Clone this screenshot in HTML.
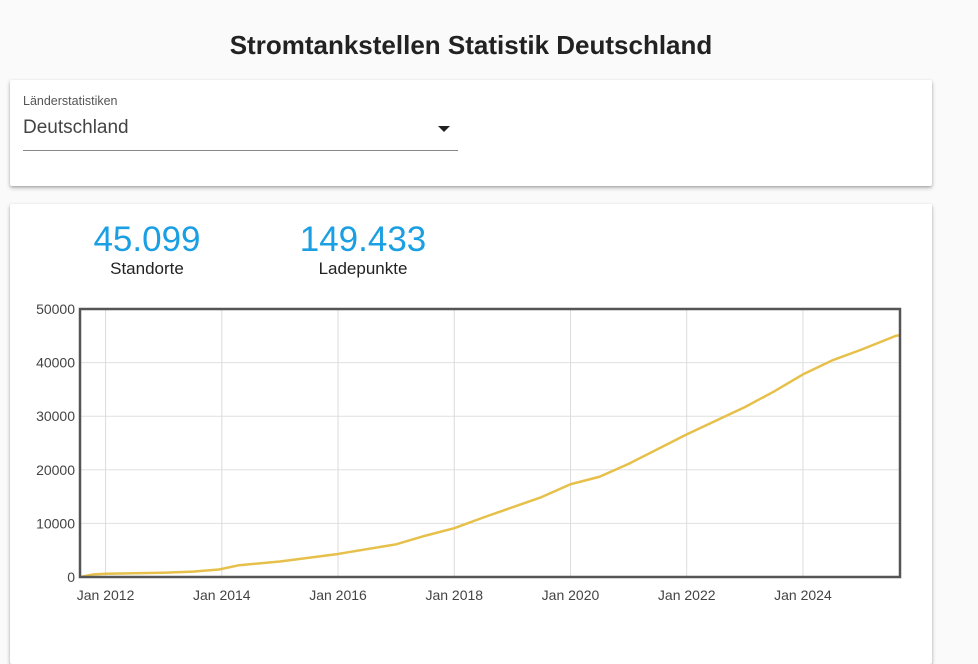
<!DOCTYPE html>
<html><head><meta charset="utf-8"><style>
body{margin:0;width:978px;height:653px;overflow:hidden;background:#fafafa;font-family:"Liberation Sans",Arial,sans-serif;position:relative}
.card{position:absolute;left:10px;width:922px;background:#fff;box-shadow:0 2px 4px rgba(0,0,0,.25),0 1px 2px rgba(0,0,0,.15);border-radius:2px}
h1{position:absolute;left:0;width:942px;top:30px;margin:0;text-align:center;font-size:26px;font-weight:bold;color:#222}
.stat{position:absolute;text-align:center;width:200px}
.num{font-size:35px;color:#1a9fe3;line-height:35px}
.lbl{font-size:17px;color:#222;margin-top:2px}
</style></head><body>
<h1>Stromtankstellen Statistik Deutschland</h1>
<div class="card" style="top:80px;height:106px">
 <div style="position:absolute;left:13px;top:14px;font-size:12.5px;color:#555">Länderstatistiken</div>
 <div style="position:absolute;left:13px;top:37px;width:435px;height:33px;border-bottom:1px solid #888;cursor:pointer">
  <span style="font-size:19px;color:#444">Deutschland</span>
  <span style="position:absolute;right:8px;top:9px;width:0;height:0;border-left:6px solid transparent;border-right:6px solid transparent;border-top:6px solid #222"></span>
 </div>
</div>
<div class="card" style="top:204px;height:460px"></div>
<div class="stat" style="left:47px;top:222px"><div class="num">45.099</div><div class="lbl">Standorte</div></div>
<div class="stat" style="left:263px;top:222px"><div class="num">149.433</div><div class="lbl">Ladepunkte</div></div>
<svg id="chart" width="978" height="653" style="position:absolute;left:0;top:0"></svg>
<script>
const yearPoints=[2011.56,2011.8,2012,2013,2013.5,2013.95,2014.3,2015,2016,2017,2017.5,2018,2018.5,2019,2019.5,2020,2020.5,2021,2022,2023,2023.5,2024,2024.5,2025,2025.6,2025.66];
const standorte=[0,500,600,800,1000,1400,2200,2900,4300,6100,7700,9100,11100,13000,14900,17300,18700,21100,26600,31700,34600,37800,40400,42400,45000,45099];
const yTicks=[0,10000,20000,30000,40000,50000];
const xTickYears=[2012,2014,2016,2018,2020,2022,2024];
const xTickLabels=["Jan 2012","Jan 2014","Jan 2016","Jan 2018","Jan 2020","Jan 2022","Jan 2024"];
const L=80,R=900,T=309,B=577,x0=2011.56,x1=2025.67;
const X=v=>L+(v-x0)/(x1-x0)*(R-L);
const Y=v=>B-v/50000*(B-T);
const svg=document.getElementById('chart');const NS='http://www.w3.org/2000/svg';
function mk(t,a){const e=document.createElementNS(NS,t);for(const k in a)e.setAttribute(k,a[k]);svg.appendChild(e);return e;}
yTicks.forEach(v=>{
 const g=mk('line',{x1:L,x2:R,y1:Y(v),y2:Y(v),stroke:'#e0e0e0','stroke-width':1});
 
 
 const t=mk('text',{x:L-5,y:Y(v)+5,'text-anchor':'end','font-size':14,fill:'#444','font-family':'Liberation Sans, sans-serif'});
 t.textContent=v;
 
 
});
xTickYears.forEach((v,i)=>{
 const g=mk('line',{x1:X(v),x2:X(v),y1:T,y2:B,stroke:'#dcdcdc','stroke-width':1});
 
 
 const t=mk('text',{x:X(v),y:600,'text-anchor':'middle','font-size':14,fill:'#444','font-family':'Liberation Sans, sans-serif'});
 t.textContent=xTickLabels[i];
 
 
});
const line=mk('polyline',{points:yearPoints.map((v,i)=>X(v)+','+Y(standorte[i])).join(' '),fill:'none',stroke:'#e6c04a','stroke-width':2.5,'stroke-linejoin':'round'});


const box=mk('rect',{x:L,y:T,width:R-L,height:B-T,fill:'none',stroke:'#555','stroke-width':2.5});


</script>
</body></html>
